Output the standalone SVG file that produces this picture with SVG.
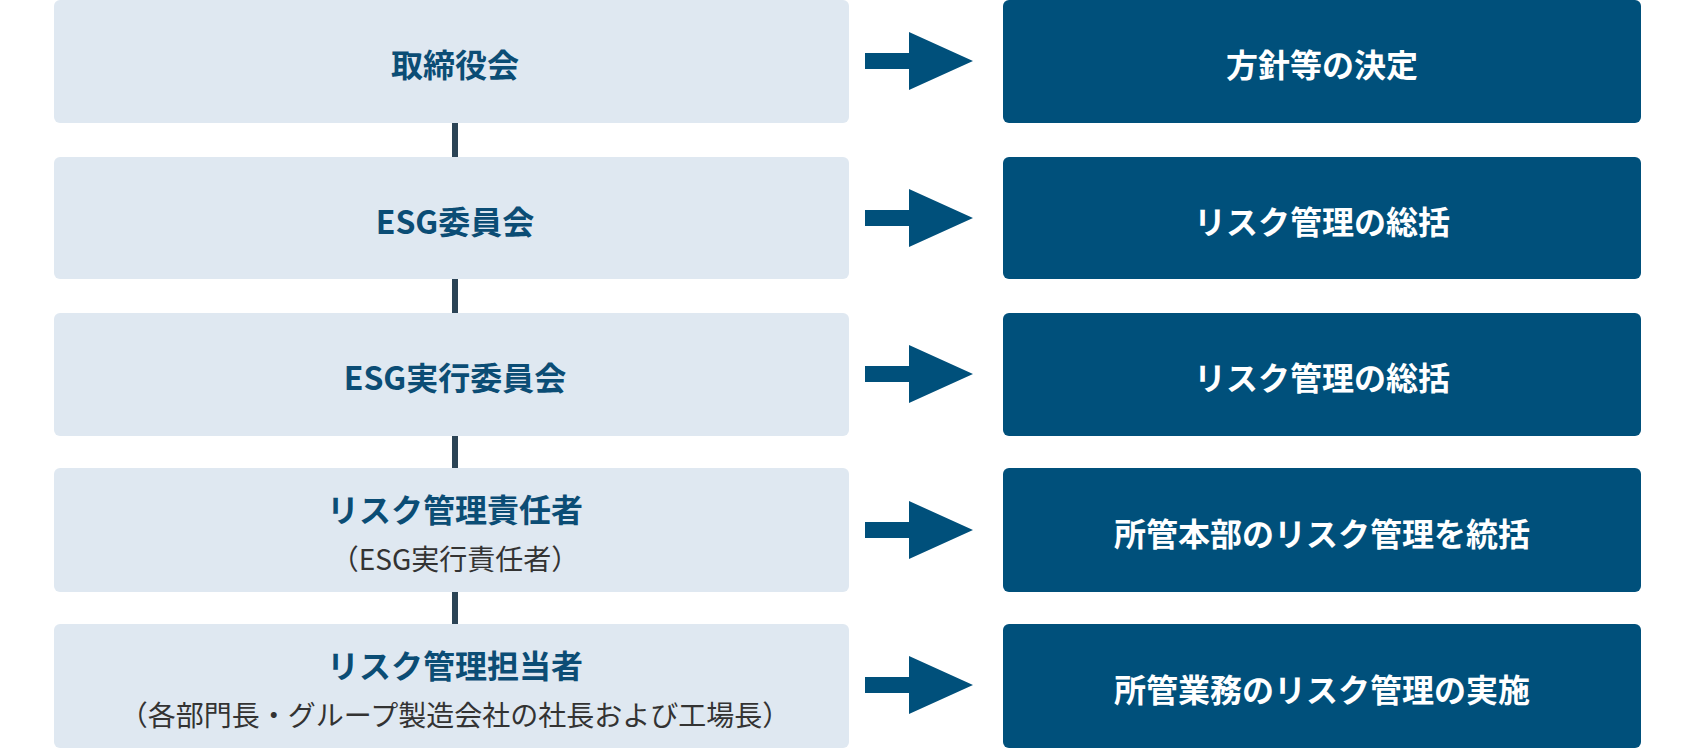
<svg xmlns="http://www.w3.org/2000/svg" width="1696" height="748" viewBox="0 0 1696 748">
<style>
.l{fill:#dfe8f1}
.r{fill:#00507b}
.t{font-family:"Noto Sans CJK JP","Noto Sans",sans-serif;font-weight:700;font-size:32px;text-anchor:middle;dominant-baseline:central}
.lt{fill:#0b4d75}
.rt{fill:#fff}
.s{font-family:"Noto Sans CJK JP","Noto Sans",sans-serif;font-size:28px;fill:#333;text-anchor:middle;dominant-baseline:central}
.c{stroke:#2b4456;stroke-width:6}
.a{fill:#00507b}
</style>
<g id="connectors">
<line class="c" x1="455" y1="123" x2="455" y2="157"/>
<line class="c" x1="455" y1="279" x2="455" y2="313"/>
<line class="c" x1="455" y1="436" x2="455" y2="468"/>
<line class="c" x1="455" y1="592" x2="455" y2="624"/>
<path class="a" d="M865,53h44v-21l64,29l-64,29v-21h-44z"/>
<path class="a" d="M865,210h44v-21l64,29l-64,29v-21h-44z"/>
<path class="a" d="M865,366h44v-21l64,29l-64,29v-21h-44z"/>
<path class="a" d="M865,522h44v-21l64,29l-64,29v-21h-44z"/>
<path class="a" d="M865,677h44v-21l64,29l-64,29v-21h-44z"/>
</g>
<g id="n1"><rect class="l" x="54" y="0" width="795" height="123" rx="6"/><text class="t lt" x="455" y="63">取締役会</text></g>
<g id="n2"><rect class="l" x="54" y="157" width="795" height="122" rx="6"/><text class="t lt" x="455" y="220">ESG委員会</text></g>
<g id="n3"><rect class="l" x="54" y="313" width="795" height="123" rx="6"/><text class="t lt" x="455" y="376">ESG実行委員会</text></g>
<g id="n4"><rect class="l" x="54" y="468" width="795" height="124" rx="6"/><text class="t lt" x="455" y="508">リスク管理責任者</text><text class="s" x="455" y="558">（ESG実行責任者）</text></g>
<g id="n5"><rect class="l" x="54" y="624" width="795" height="124" rx="6"/><text class="t lt" x="455" y="664">リスク管理担当者</text><text class="s" x="455" y="714">（各部門長・グループ製造会社の社長および工場長）</text></g>
<g id="m1"><rect class="r" x="1003" y="0" width="638" height="123" rx="6"/><text class="t rt" x="1322" y="63">方針等の決定</text></g>
<g id="m2"><rect class="r" x="1003" y="157" width="638" height="122" rx="6"/><text class="t rt" x="1322" y="220">リスク管理の総括</text></g>
<g id="m3"><rect class="r" x="1003" y="313" width="638" height="123" rx="6"/><text class="t rt" x="1322" y="376">リスク管理の総括</text></g>
<g id="m4"><rect class="r" x="1003" y="468" width="638" height="124" rx="6"/><text class="t rt" x="1322" y="532">所管本部のリスク管理を統括</text></g>
<g id="m5"><rect class="r" x="1003" y="624" width="638" height="124" rx="6"/><text class="t rt" x="1322" y="688">所管業務のリスク管理の実施</text></g>
</svg>
